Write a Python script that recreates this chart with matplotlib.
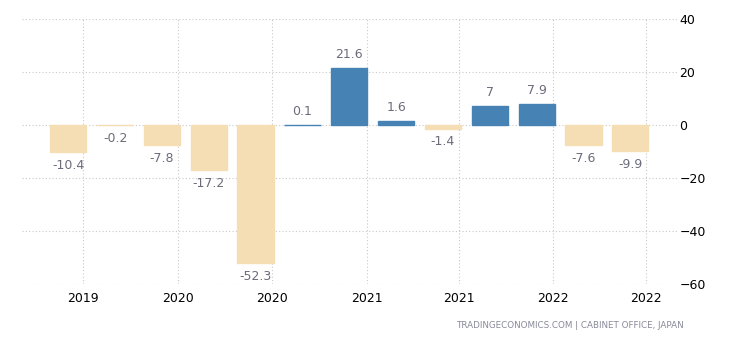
# GDP growth rate (annualized, quarterly) - Japan
import numpy as np
import matplotlib
matplotlib.use('Agg')
import matplotlib.pyplot as plt

# data
values = [-10.4, -0.2, -7.8, -17.2, -52.3, 0.1, 21.6, 1.6, -1.4, 7, 7.9, -7.6, -9.9]
value_labels = ['-10.4', '-0.2', '-7.8', '-17.2', '-52.3', '0.1', '21.6', '1.6',
                '-1.4', '7', '7.9', '-7.6', '-9.9']
tick_labels = ['2019', '2020', '2020', '2021', '2021', '2022', '2022']
tick_pos = [0.32, 2.35, 4.34, 6.37, 8.35, 10.35, 12.33]
y_ticks = [40, 20, 0, -20, -40, -60]

pos_color = '#4682b4'
neg_color = '#f5deb3'
label_color = '#6b6b7b'

fig = plt.figure(figsize=(7.3, 3.4), dpi=100)
ax = fig.add_axes([0.030, 0.166, 0.897, 0.778])

x = np.arange(len(values))
colors = [pos_color if v > 0 else neg_color for v in values]
# thin edge in the same colour so near-zero bars still show up
ax.bar(x, values, width=0.775, color=colors, edgecolor=colors, linewidth=1.0, zorder=2)

# value labels above/below bars
for xi, v, lab in zip(x, values, value_labels):
    if v > 0:
        ax.annotate(lab, (xi, v), xytext=(0, 5), textcoords='offset points',
                    ha='center', va='bottom', fontsize=9, color=label_color)
    else:
        ax.annotate(lab, (xi, v), xytext=(0, -5), textcoords='offset points',
                    ha='center', va='top', fontsize=9, color=label_color)

ax.set_xlim(-0.99, 12.99)
ax.set_ylim(-60, 40)
ax.set_xticks(tick_pos)
ax.set_xticklabels(tick_labels, fontsize=9)
ax.set_yticks(y_ticks)
ax.yaxis.tick_right()
ax.tick_params(axis='both', length=0, labelsize=9, colors='black')
ax.tick_params(axis='y', pad=2)
ax.tick_params(axis='x', pad=6)

ax.grid(True, color='#c8c8c8', linestyle=(0, (1, 2)), linewidth=0.8, zorder=0)
ax.set_axisbelow(True)
for s in ax.spines.values():
    s.set_visible(False)

fig.text(684 / 730, 1 - 325 / 340, 'TRADINGECONOMICS.COM | CABINET OFFICE, JAPAN',
         ha='right', va='center', fontsize=6.3, color='#8a8a9a')

fig.savefig('out.png', dpi=100)
